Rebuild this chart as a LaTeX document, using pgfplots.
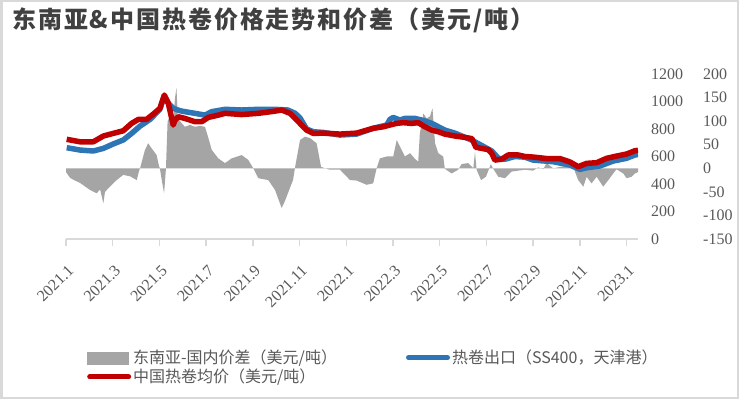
\documentclass[border=0pt]{standalone}
\usepackage{pgfplots}
\pgfplotsset{compat=1.18}
\usepackage{pgfplotstable}
\usepackage{fontspec}
\setmainfont{Liberation Serif}
\newfontfamily\cjk{Noto Sans CJK SC}
\definecolor{bluec}{HTML}{2E75B6}
\definecolor{redc}{HTML}{C00000}
\definecolor{grayc}{HTML}{A5A5A5}
\definecolor{axisc}{HTML}{D9D9D9}
\definecolor{txtc}{HTML}{595959}
\definecolor{titlec}{HTML}{404040}

\pgfplotstableread{
x y
0.00 0
0.00 -8
0.17 -20
0.34 -25
0.60 -31
1.03 -46
1.31 -53
1.46 -45
1.60 -74
1.67 -50
1.88 -39
2.17 -25
2.45 -14
2.74 -17
3.03 -25
3.13 -5
3.17 0
3.38 39
3.52 53
3.67 42
3.88 28
3.98 5
4.02 0
4.10 -25
4.20 -53
4.28 0
4.35 100
4.45 110
4.58 95
4.67 150
4.73 170
4.79 105
4.88 100
5.09 88
5.31 92
5.52 88
5.74 90
5.95 88
6.08 67
6.24 39
6.52 21
6.81 11
7.09 21
7.52 28
7.80 18
8.02 0
8.23 -21
8.66 -25
8.95 -46
9.23 -84
9.37 -70
9.50 -53
9.72 -25
9.80 0
10.02 60
10.23 67
10.45 64
10.73 53
10.92 3
11.09 0
11.30 -3
11.73 -3
12.16 -25
12.44 -26
12.87 -35
13.15 -32
13.30 0
13.44 21
13.73 25
14.01 25
14.16 60
14.30 46
14.51 25
14.73 32
14.94 20
15.08 14
15.15 74
15.30 116
15.44 106
15.58 110
15.69 127
15.80 53
15.94 32
16.15 25
16.22 -1
16.51 -11
16.79 -3
16.94 9
17.22 11
17.44 0
17.51 35
17.58 -3
17.77 -25
17.98 -18
18.19 9
18.28 0
18.51 -18
18.79 -21
19.08 -7
19.36 -5
19.65 -3
20.00 -5
20.22 2
20.43 -2
20.58 11
20.86 0
21.29 4
21.72 2
21.93 -25
22.15 -39
22.29 -18
22.50 -32
22.72 -18
23.00 -39
23.22 -25
23.43 -11
23.57 -2
23.86 -11
24.00 -21
24.22 -18
24.36 -11
24.49 -8
24.49 0
}\spreadtable

\pgfplotstableread{
x y
0.03 664
0.60 647
1.17 640
1.60 659
2.02 691
2.45 720
2.81 768
3.17 821
3.60 870
4.02 943
4.21 1040
4.37 990
4.59 950
4.88 933
5.09 926
5.52 914
5.95 901
6.24 926
6.81 943
7.52 938
8.23 943
8.95 943
9.50 938
9.81 914
10.02 880
10.30 800
10.59 780
11.01 775
11.73 756
12.44 763
13.15 805
13.73 829
13.87 870
14.01 884
14.30 865
14.51 877
14.94 877
15.23 865
15.66 841
16.22 792
16.65 770
17.36 720
17.80 680
18.23 640
18.51 587
18.79 580
19.22 600
19.65 595
20.00 574
20.86 562
21.58 538
22.00 506
22.29 518
22.86 531
23.43 567
24.00 587
24.36 611
24.49 615
}\bluetable

\pgfplotstableread{
x y
0.03 725
0.60 707
1.17 707
1.60 749
2.02 768
2.45 787
2.81 841
3.10 870
3.45 870
3.74 909
4.02 950
4.21 1047
4.38 987
4.59 829
4.67 865
4.81 889
5.09 877
5.52 853
5.81 853
6.09 884
6.52 901
6.81 914
7.52 905
8.23 914
8.95 930
9.23 938
9.59 914
9.88 865
10.30 792
10.59 768
11.01 770
11.73 763
12.44 770
13.15 805
13.58 816
13.87 829
14.16 841
14.44 846
14.80 841
15.08 846
15.37 816
15.66 792
15.94 780
16.22 763
16.65 749
17.08 739
17.38 730
17.55 667
17.80 659
18.08 650
18.24 620
18.36 574
18.65 580
18.93 611
19.36 611
19.65 600
20.00 596
20.58 585
21.15 585
21.58 560
21.93 526
22.29 550
22.72 555
23.15 587
23.57 603
24.00 618
24.36 642
24.49 645
}\redtable

\begin{document}
\begin{tikzpicture}
\useasboundingbox (0pt,0pt) rectangle (739pt,399pt);
\fill[white] (0pt,0pt) rectangle (739pt,399pt);
\draw[axisc, line width=2.5pt] (1.25pt,1.25pt) rectangle (737.75pt,397.75pt);
\node[anchor=west, inner sep=0pt, text=titlec] at (12pt,379pt)
  {\cjk\bfseries\fontsize{24}{26}\selectfont\addfontfeatures{LetterSpace=8}东南亚\&中国热卷价格走势和价差（美元/吨）};

\begin{axis}[
  at={(66pt,160pt)}, anchor=south west, scale only axis,
  width=572pt, height=165pt,
  xmin=0, xmax=24.49, ymin=-150, ymax=200,
  axis x line=none, axis y line*=right,
  y axis line style={draw=none},
  ytick={-150,-100,-50,0,50,100,150,200},
  yticklabels={-150,-100,-50,0,50,100,150,200},
  ytick style={draw=none},
  yticklabel style={anchor=west, inner sep=0pt, xshift=65pt,
    font=\fontsize{16}{18}\selectfont, text=txtc},
]
\addplot[fill=grayc, draw=none] table[x=x, y=y] {\spreadtable};
\end{axis}

\begin{axis}[
  at={(66pt,160pt)}, anchor=south west, scale only axis,
  width=572pt, height=165pt,
  xmin=0, xmax=24.49, ymin=0, ymax=1200,
  axis x line*=bottom, axis y line*=right,
  y axis line style={draw=none},
  x axis line style={axisc, line width=1.5pt, -},
  xtick={0,2,...,24},
  xticklabels={2021.1,2021.3,2021.5,2021.7,2021.9,2021.11,2022.1,2022.3,2022.5,2022.7,2022.9,2022.11,2023.1},
  xtick align=outside, major tick length=7pt,
  xtick style={axisc, line width=1.5pt},
  xticklabel style={xshift=1pt, yshift=-18pt, rotate=45, anchor=north east, inner sep=0pt,
    font=\fontsize{16}{18}\selectfont, text=txtc},
  ytick={0,200,400,600,800,1000,1200},
  yticklabels={0,200,400,600,800,1000,1200},
  ytick style={draw=none},
  yticklabel style={anchor=west, inner sep=0pt, xshift=13pt,
    font=\fontsize{16}{18}\selectfont, text=txtc},
  legend columns=2,
  legend cell align=left,
  legend style={at={(axis description cs:0.0367,-0.66)}, anchor=north west,
    draw=none, fill=none, inner sep=0pt,
    font=\cjk\fontsize{16}{18}\selectfont, text=txtc,
    nodes={inner sep=2pt},
    row sep=0pt,
    /tikz/column 2/.style={column sep=67pt}},
]
\addlegendimage{legend image code/.code={\fill[grayc] (0pt,-6pt) rectangle (41pt,6pt);}}
\addlegendentry{东南亚-国内价差（美元/吨）}
\addplot[bluec, line width=5.5pt, line join=round,
  legend image code/.code={\draw[bluec, line width=5pt, line cap=round] (2pt,0pt) -- (41pt,0pt);}]
  table[x=x, y=y] {\bluetable};
\addlegendentry{热卷出口（SS400，天津港）}
\addplot[redc, line width=5.5pt, line join=round,
  legend image code/.code={\draw[redc, line width=5pt, line cap=round] (2pt,0pt) -- (41pt,0pt);}]
  table[x=x, y=y] {\redtable};
\addlegendentry{中国热卷均价（美元/吨）}
\end{axis}
\end{tikzpicture}
\end{document}
